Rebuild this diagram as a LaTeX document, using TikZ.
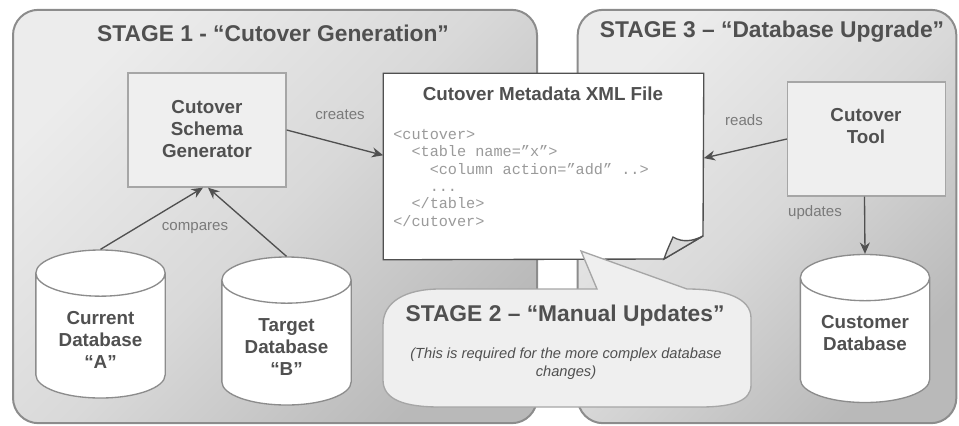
\documentclass[tikz,border=0pt]{standalone}
\usepackage{fontspec}
\setmainfont{Liberation Sans}
\setsansfont{Liberation Sans}
\setmonofont{Liberation Mono}
\usetikzlibrary{shapes.geometric,arrows.meta}
\definecolor{inkgray}{HTML}{505050}
\definecolor{labelgray}{HTML}{7A7A7A}
\definecolor{codegray}{HTML}{9A9A9A}
\definecolor{edgegray}{HTML}{8C8C8C}
\definecolor{boxedge}{HTML}{A6A6A6}
\definecolor{boxfill}{HTML}{EFEFEF}

\begin{document}
\begin{tikzpicture}[x=0.75pt, y=-0.75pt,
  panel/.style = {draw=edgegray, line width=1.5pt, rounded corners=19pt, inner sep=0pt,
    top color=gray!15, bottom color=gray!55, middle color=gray!30, shading angle=45},
  main/.style = {draw=boxedge, line width=1pt, fill=boxfill, inner sep=0pt,
    minimum width=118.5pt, minimum height=85.5pt},
  dbase/.style = {draw=edgegray, line width=1pt, fill=white, cylinder, shape border rotate=90,
    shape aspect=0.357, text width=97pt, minimum width=97pt, minimum height=111pt, inner sep=0pt, anchor=shape center},
  caption/.style = {text=inkgray, inner sep=0pt, align=center, font=\fontsize{14.1}{16.5}\selectfont\bfseries},
  heading/.style = {text=inkgray, inner sep=0pt, font=\fontsize{17.1}{20}\selectfont\bfseries},
  verb/.style = {text=labelgray, inner sep=0pt, font=\fontsize{11.3}{13}\selectfont},
  link/.style = {draw=inkgray, line width=1pt, -{Stealth[length=8.5pt,width=7.5pt]}}]
\useasboundingbox (0,0) rectangle (959,425);

% stage panels
\node[panel, minimum width=393pt, minimum height=310pt] (stage1) at (275,216.5) {};
\node[panel, minimum width=284pt, minimum height=310pt] (stage3) at (767,216.5) {};
\node[heading] (stage1title) at (273,33) {STAGE 1 - “Cutover Generation”};
\node[heading] (stage3title) at (772,32) {STAGE 3 – “Database Upgrade”};

% boxes and databases
\node[main] (generator) at (207,130) {};
\node[main] (tool) at (866.5,139) {};
\node[dbase] (dba) at (100.5,324) {};
\node[dbase] (dbb) at (286.5,331) {};
\node[dbase] (customer) at (865,328.5) {};
\node[caption] (generatortext) at (207,129) {Cutover\\Schema\\Generator};
\node[caption] (tooltext) at (866,126.5) {Cutover\\Tool};
\node[caption] (dbatext) at (100.5,340) {Current\\Database\\“A”};
\node[caption] (dbbtext) at (286.5,347) {Target\\Database\\“B”};
\node[caption] (customertext) at (865,333) {Customer\\Database};

% metadata file, the sheet is drawn over this node
\node[minimum width=240pt, minimum height=139.5pt, inner sep=0pt] (xmlfile) at (543.5,166.5) {};
\draw[draw=inkgray, line width=1pt, fill=white]
  (xmlfile.north west) -- (xmlfile.north east) -- (703,236) -- (664,259) -- (xmlfile.south west) -- cycle;
\draw[draw=inkgray, line width=1pt, fill=gray!30]
  (664,259) .. controls (667,250) and (670,244) .. (673,237) .. controls (683,243) and (693,241) .. (703,236) -- cycle;
\node[caption] (xmltitle) at (543,94) {Cutover Metadata XML File};
\node[text=codegray, anchor=north west, inner sep=0pt, align=left, font=\fontsize{11.4}{13}\ttfamily] (xmlcode) at (393,129) {%
<cutover>\\
~~<table name=”x”>\\
~~~~<column action=”add” ..>\\
~~~~...\\
~~</table>\\
</cutover>};

% callout
\draw[draw=boxedge, line width=1pt, fill=boxfill]
  (581,251) -- (597,289) -- (440,289) .. controls (405,289) and (383,302) .. (383,325)
  -- (383,380) .. controls (383,400) and (405,407) .. (440,407) -- (700,407)
  .. controls (735,407) and (751,400) .. (751,385) -- (751,318)
  .. controls (751,298) and (725,289) .. (687,289) -- cycle;
\node[heading] (stage2title) at (565,316) {STAGE 2 – “Manual Updates”};
\node[text=inkgray, inner sep=0pt, align=center, font=\fontsize{11}{13.5}\selectfont\itshape] (stage2note) at (566,364)
  {(This is required for the more complex database\\changes)};

% connectors
\draw[link] (dba.north) -- (generator.266);
\draw[link] (dbb.north) -- (generator.271);
\draw[link] (generator.east) -- (xmlfile.176.4);
\draw[link] (tool.west) -- (xmlfile.3.8);
\draw[link] (tool.268.5) -- (customer.north);

\node[verb] (compares) at (195,228) {compares};
\node[verb] (creates) at (340,115) {creates};
\node[verb] (reads) at (744,120) {reads};
\node[verb] (updates) at (815,213) {updates};
\end{tikzpicture}
\end{document}
